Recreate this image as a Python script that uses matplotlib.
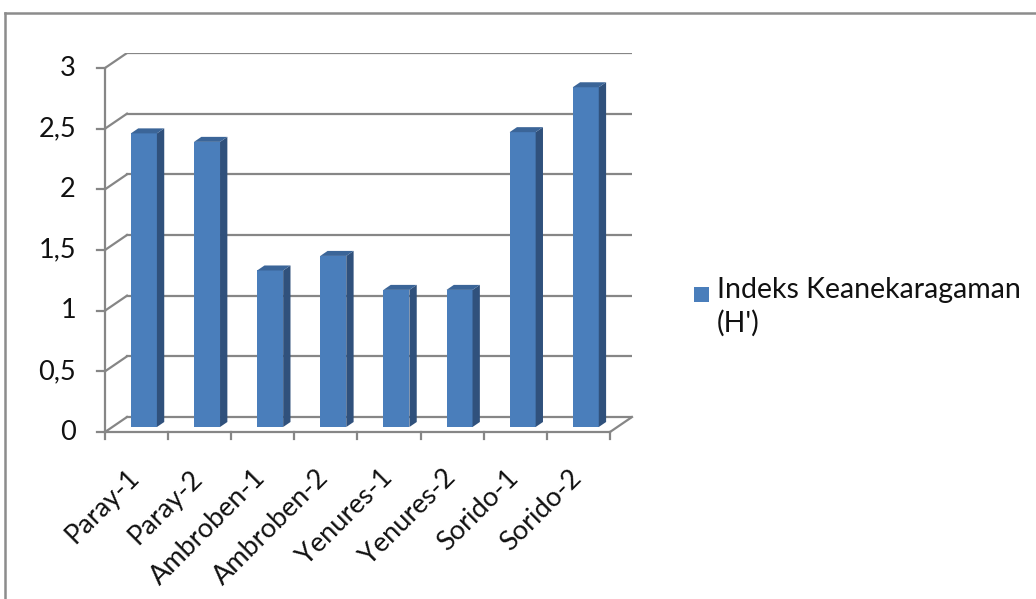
import matplotlib.pyplot as plt
from matplotlib.patches import Polygon, Rectangle
from matplotlib.lines import Line2D

# Data
categories = ['Paray-1', 'Paray-2', 'Ambroben-1', 'Ambroben-2',
              'Yenures-1', 'Yenures-2', 'Sorido-1', 'Sorido-2']
h_index = [2.42, 2.35, 1.29, 1.41, 1.13, 1.13, 2.43, 2.80]
y_ticks = [0, 0.5, 1, 1.5, 2, 2.5, 3]
y_tick_labels = ['0', '0,5', '1', '1,5', '2', '2,5', '3']
series_label = "Indeks Keanekaragaman\n(H')"

plt.rcParams['font.family'] = ['Lato', 'DejaVu Sans']
FS = 19.5
GRID = '#868686'
FRONT = '#4a7ebb'
SIDE = '#30517c'
TOP = '#3b6598'
TXT = '#111111'

W, H = 1036, 599
fig = plt.figure(figsize=(W / 100, H / 100), dpi=100)

# front plane of the pseudo-3D box in pixels
x0, x1, y0, ytop = 105, 632, 432, 53
ax = fig.add_axes([x0 / W, (H - y0) / H, (x1 - x0) / W, (y0 - ytop) / H])
n = len(categories)
ppu_x = 63.1
ppu_y = (y0 - 68) / 3.0
dx = 22 / ppu_x
dy = 15 / ppu_y
ax.set_xlim(0, n + dx)
ax.set_ylim(0, 3 + dy)
ax.axis('off')

# back wall gridlines + left wall diagonals
for v in y_ticks:
    ax.plot([dx, n + dx], [v + dy, v + dy], color=GRID, lw=1.6, zorder=1)
    ax.plot([0, dx], [v, v + dy], color=GRID, lw=1.6, zorder=1)
# floor & axes
ax.plot([0, n], [0, 0], color=GRID, lw=1.6, zorder=1, clip_on=False)
ax.plot([n, n + dx], [0, dy], color=GRID, lw=1.6, zorder=1, clip_on=False)
ax.plot([0, 0], [0, 3], color=GRID, lw=1.6, zorder=1, clip_on=False)

# y ticks
for v, lab in zip(y_ticks, y_tick_labels):
    ax.plot([-8 / ppu_x, 0], [v, v], color=GRID, lw=1.6, clip_on=False)
    ax.text(-29 / ppu_x, v, lab, ha='right', va='center', fontsize=FS, color=TXT)

# x ticks
for i in range(n + 1):
    ax.plot([i, i], [0, -7 / ppu_y], color=GRID, lw=1.6, clip_on=False)

for i, lab in enumerate(categories):
    ax.text(i + 0.5 + 8 / ppu_x, -33 / ppu_y, lab, rotation=45, ha='right',
            va='top', fontsize=FS, color=TXT)

# bars (placed in the middle depth slice)
bw = 26 / ppu_x
ox, oy = dx / 3, dy / 3
xs = [i + 0.5 + ox for i in range(n)]
bars = ax.bar(xs, h_index, width=bw, bottom=oy, color=FRONT, zorder=3)
for b in bars:
    xl = b.get_x()
    xr = xl + b.get_width()
    yb = b.get_y()
    yt = yb + b.get_height()
    ax.add_patch(Polygon([(xr, yb), (xr + ox, yb + oy), (xr + ox, yt + oy), (xr, yt)],
                         closed=True, facecolor=SIDE, edgecolor='none', zorder=3))
    ax.add_patch(Polygon([(xl, yt), (xl + ox, yt + oy), (xr + ox, yt + oy), (xr, yt)],
                         closed=True, facecolor=TOP, edgecolor='none', zorder=3))

# legend
fig.add_artist(Rectangle((694 / W, (H - 302) / H), 15 / W, 15 / H,
                         transform=fig.transFigure, facecolor=FRONT, edgecolor='none'))
fig.text(717 / W, (H - 277) / H, series_label, ha='left', va='top', fontsize=20.5,
         color=TXT, linespacing=1.32)

# chart area border
fig.add_artist(Line2D([5 / W, 5 / W], [0, (H - 13) / H], color='#8c8c8c', lw=1.8,
                      transform=fig.transFigure))
fig.add_artist(Line2D([5 / W, 1], [(H - 13) / H, (H - 13) / H], color='#8c8c8c', lw=1.8,
                      transform=fig.transFigure))

fig.savefig('out.png', dpi=100)
